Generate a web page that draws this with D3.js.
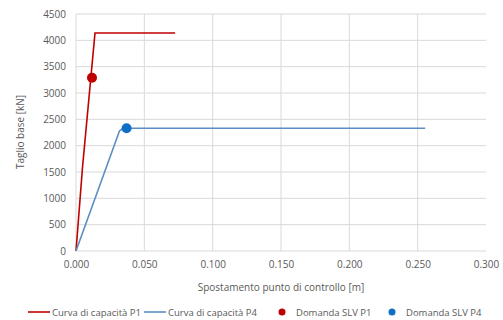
<!DOCTYPE html>
<html><head><meta charset="utf-8">
<script src="https://cdn.jsdelivr.net/npm/d3@7/dist/d3.min.js"></script>
<style>body{margin:0;background:#fff}text{font-family:"Open Sans","Liberation Sans",sans-serif;fill:#595959}</style>
</head><body><svg id="c" width="503" height="320"></svg>
<script>
const xTicks=[0,0.05,0.1,0.15,0.2,0.25,0.3];
const yTicks=[0,500,1000,1500,2000,2500,3000,3500,4000,4500];
const curveP1X=[0,0.0048,0.0139,0.0725];
const curveP1Y=[0,1600,4140,4140];
const curveP4X=[0,0.0318,0.0345,0.2555];
const curveP4Y=[0,2280,2330,2330];
const demandX=[0.0117,0.037];
const demandY=[3290,2330];
const seriesNames=["Curva di capacità P1","Curva di capacità P4","Domanda SLV P1","Domanda SLV P4"];
const colors=["#c00000","#5b8ec4","#c00000","#0f6fc6"];

const svg=d3.select("#c");
const x=d3.scaleLinear().domain([0,0.3]).range([76,486]);
const y=d3.scaleLinear().domain([0,4500]).range([251,14]);

const g=svg.append("g");
g.selectAll(".hg").data(yTicks).join("line").attr("x1",76).attr("x2",486)
 .attr("y1",d=>y(d)).attr("y2",d=>y(d)).attr("stroke","#d9d9d9").attr("stroke-width",1);
g.selectAll(".vg").data(xTicks.slice(0,-1)).join("line").attr("y1",14).attr("y2",251)
 .attr("x1",d=>x(d)).attr("x2",d=>x(d)).attr("stroke","#d9d9d9").attr("stroke-width",1);

const yAxis=d3.axisLeft(y).tickValues(yTicks).tickSize(0).tickPadding(10).tickFormat(d3.format("d"));
const ya=svg.append("g").attr("transform","translate(76,0)").call(yAxis);
ya.select(".domain").remove();
ya.selectAll("text").style("font-size","10px").attr("fill","#595959");
const xAxis=d3.axisBottom(x).tickValues(xTicks).tickSize(0).tickPadding(10).tickFormat(d3.format(".3f"));
const xa=svg.append("g").attr("transform","translate(0,251)").call(xAxis);
xa.select(".domain").remove();
xa.selectAll("text").style("font-size","10px").attr("fill","#595959");

const line=d3.line().x(d=>x(d[0])).y(d=>y(d[1]));
svg.append("path").datum(curveP1X.map((v,i)=>[v,curveP1Y[i]])).attr("d",line)
 .attr("fill","none").attr("stroke",colors[0]).attr("stroke-width",1.6);
svg.append("path").datum(curveP4X.map((v,i)=>[v,curveP4Y[i]])).attr("d",line)
 .attr("fill","none").attr("stroke",colors[1]).attr("stroke-width",1.6);
svg.selectAll(".dot").data(demandX).join("circle").attr("cx",d=>x(d)).attr("cy",(d,i)=>y(demandY[i]))
 .attr("r",5).attr("fill",(d,i)=>colors[2+i]);

svg.append("text").attr("transform","translate(24,132) rotate(-90)").attr("text-anchor","middle")
 .style("font-size","10px").text("Taglio base [kN]");
svg.append("text").attr("x",281).attr("y",291).attr("text-anchor","middle")
 .style("font-size","10px").text("Spostamento punto di controllo [m]");

const lx=[28,144,278,388];
const lg=svg.append("g");
seriesNames.forEach((n,i)=>{
  if(i<2){
    lg.append("line").attr("x1",lx[i]).attr("x2",lx[i]+22).attr("y1",312).attr("y2",312)
      .attr("stroke",colors[i]).attr("stroke-width",1.6);
    lg.append("text").attr("x",lx[i]+24).attr("y",315.5).style("font-size","9.5px").text(n);
  } else {
    lg.append("circle").attr("cx",lx[i]+4).attr("cy",312).attr("r",3.5).attr("fill",colors[i]);
    lg.append("text").attr("x",lx[i]+18).attr("y",315.5).style("font-size","9.5px").text(n);
  }
});
</script></body></html>
